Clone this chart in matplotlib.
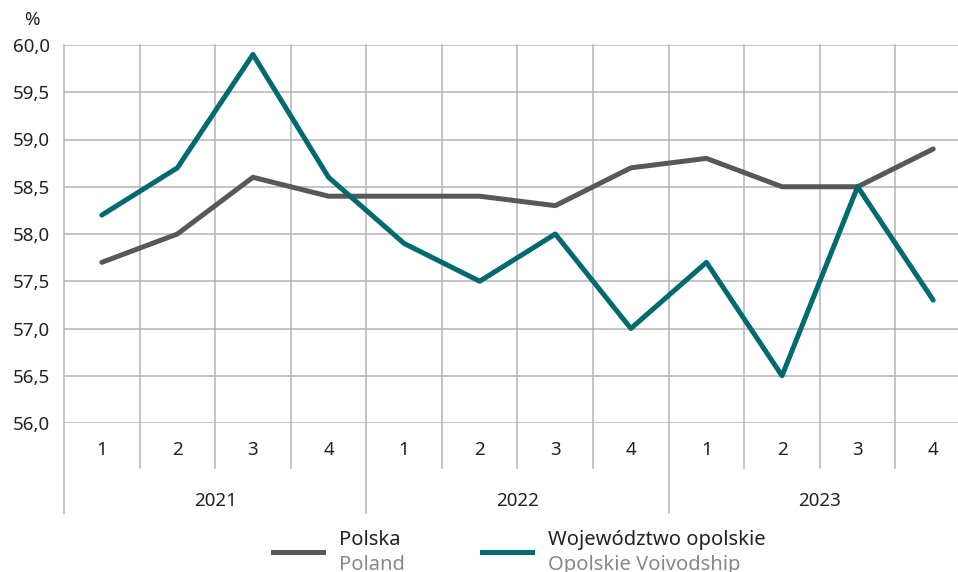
import matplotlib.pyplot as plt
from matplotlib.lines import Line2D

plt.rcParams['font.family'] = ['Noto Sans', 'DejaVu Sans']

quarters = ['1', '2', '3', '4'] * 3
years = ['2021', '2022', '2023']
polska = [57.7, 58.0, 58.6, 58.4, 58.4, 58.4, 58.3, 58.7, 58.8, 58.5, 58.5, 58.9]
opolskie = [58.2, 58.7, 59.9, 58.6, 57.9, 57.5, 58.0, 57.0, 57.7, 56.5, 58.5, 57.3]
yticks = [56.0, 56.5, 57.0, 57.5, 58.0, 58.5, 59.0, 59.5, 60.0]

c_pl = '#58585a'
c_op = '#006a6e'
c_grid = '#b4b4b4'
W, H = 958, 572

fig = plt.figure(figsize=(W / 100, H / 100), dpi=100)
ax = fig.add_axes([64 / W, (H - 423) / H, 907 / W, 378 / H])

x = list(range(len(quarters)))
ax.plot(x, polska, color=c_pl, lw=3.6, solid_capstyle='round', solid_joinstyle='round', zorder=3)
ax.plot(x, opolskie, color=c_op, lw=3.6, solid_capstyle='round', solid_joinstyle='round', zorder=4)

ax.set_xlim(-0.5, len(quarters) - 0.5)
ax.set_ylim(56.0, 60.0)
ax.set_yticks(yticks)
ax.set_yticklabels([f"{v:.1f}".replace('.', ',') for v in yticks], fontsize=13.5, color='#222222')
ax.tick_params(axis='y', length=0, pad=10)
ax.set_xticks([])
for s in ax.spines.values():
    s.set_visible(False)

for v in yticks:
    ax.axhline(v, color=c_grid, lw=1.1, zorder=1)

tr = ax.get_xaxis_transform()
for i in range(len(quarters) + 1):
    xb = i - 0.5
    bottom = -0.238 if i % 4 == 0 else -0.119
    ax.plot([xb, xb], [1, bottom], transform=tr, color=c_grid, lw=1.1, clip_on=False, zorder=1)

for i, q in enumerate(quarters):
    ax.text(i, -0.072, q, transform=tr, ha='center', va='center', fontsize=13.5, color='#222222')
for j, yr in enumerate(years):
    ax.text(j * 4 + 1.5, -0.206, yr, transform=tr, ha='center', va='center', fontsize=13.5, color='#222222')

fig.text(32 / W, 1 - 20 / H, '%', ha='center', va='center', fontsize=13.5, color='#222222')

# legend
yl = 1 - 552 / H
fig.add_artist(Line2D([273 / W, 323 / W], [yl, yl], color=c_pl, lw=3.6, transform=fig.transFigure))
fig.add_artist(Line2D([482 / W, 532 / W], [yl, yl], color=c_op, lw=3.6, transform=fig.transFigure))
fig.text(339 / W, 1 - 540 / H, 'Polska', ha='left', va='center', fontsize=14.5, color='#222222')
fig.text(339 / W, 1 - 565 / H, 'Poland', ha='left', va='center', fontsize=14.5, color='#888888')
fig.text(548 / W, 1 - 540 / H, 'Województwo opolskie', ha='left', va='center', fontsize=14.5, color='#222222')
fig.text(548 / W, 1 - 565 / H, 'Opolskie Voivodship', ha='left', va='center', fontsize=14.5, color='#888888')

fig.savefig('out.png', dpi=100)
